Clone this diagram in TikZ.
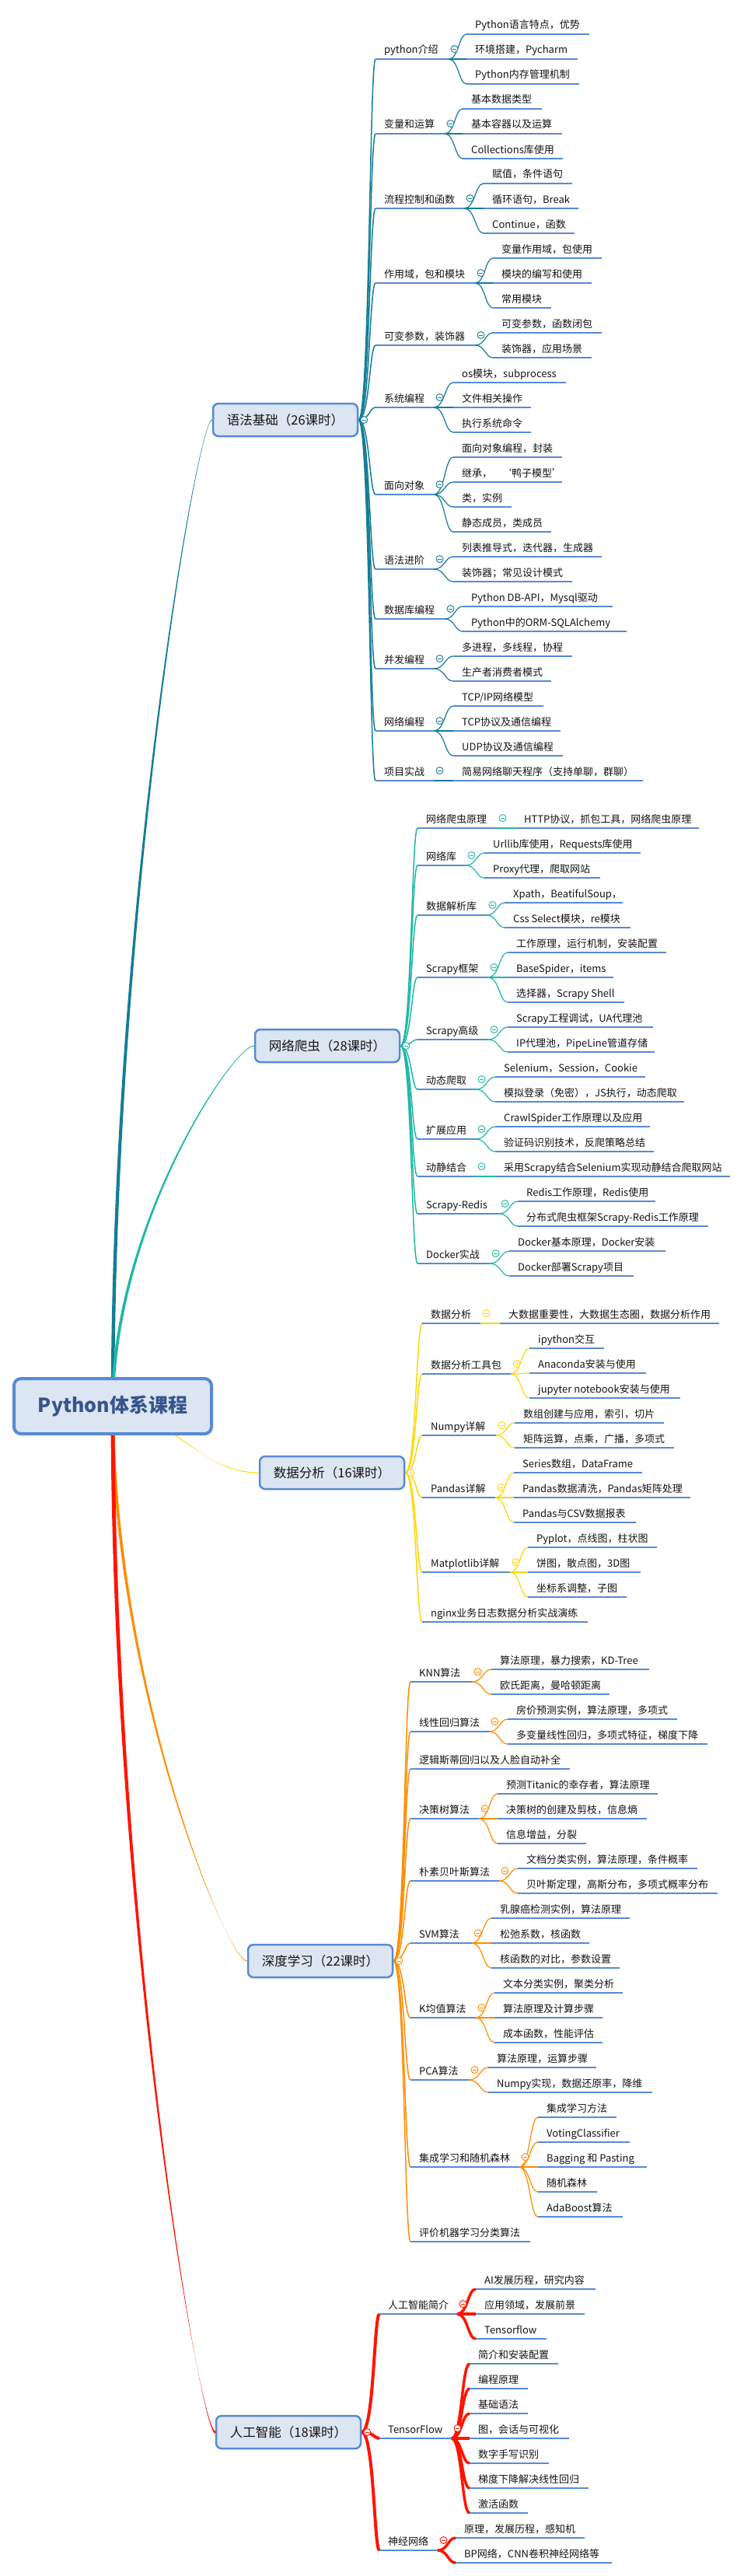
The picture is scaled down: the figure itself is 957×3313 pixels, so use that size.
\documentclass[tikz,border=0pt]{standalone}
\usepackage{fontspec}
\setmainfont{Noto Sans CJK SC}
\usetikzlibrary{calc}
\pgfdeclarelayer{bg}
\pgfsetlayers{bg,main}
\definecolor{cteal}{RGB}{20,125,150}
\definecolor{cturq}{RGB}{30,185,165}
\definecolor{cyel}{RGB}{255,214,0}
\definecolor{corange}{RGB}{255,140,0}
\definecolor{cred}{RGB}{255,20,0}
\definecolor{ublue}{RGB}{88,138,210}
\definecolor{boxfill}{RGB}{220,230,242}
\definecolor{boxline}{RGB}{88,138,210}
\definecolor{titlecol}{RGB}{55,85,140}
\definecolor{txtcol}{RGB}{20,20,20}
\newcommand\topic[5]{%
  \coordinate (#1-l) at (#2,#4);
  \coordinate (#1-r) at (#3,#4);
  \draw[uline] (#1-l) -- (#1-r);
  \node[txt] (#1) at ([xshift=11pt,yshift=7pt]#1-l) {#5};}
\newcommand\conn[4][0.57]{%
  \begin{pgfonlayer}{bg}
  \draw[#4] let \p1=(#2), \p2=(#3), \p3=($(#2)!#1!(#3)$) in
    (\p1) .. controls (\x3,\y1) and (\x3,\y2) .. (\p2);
  \end{pgfonlayer}}
% tapered connector: a,c = first control (fractions of dx,dy); b = second control x fraction
\newcommand\tconn[8]{%
  \begin{pgfonlayer}{bg}
  \fill[#6] let \p1=(#4), \p2=(#5) in
    ({\x1-#7/2},\y1) .. controls ({\x1+#1*(\x2-\x1)-#7/2},{\y1+#2*(\y2-\y1)})
      and ({\x1+#3*(\x2-\x1)},{\y2+#8/2}) .. (\x2,{\y2+#8/2})
    -- (\x2,{\y2-#8/2}) .. controls ({\x1+#3*(\x2-\x1)},{\y2-#8/2})
      and ({\x1+#1*(\x2-\x1)+#7/2},{\y1+#2*(\y2-\y1)}) .. ({\x1+#7/2},\y1) -- cycle;
  \end{pgfonlayer}}
\newcommand\kids[3]{\foreach \kk in {#2}{\edef\tmpa{#1-r}\edef\tmpb{#1\kk-l}\conn{\tmpa}{\tmpb}{#3}}}
\newcommand\pc[2]{%
  \node[circ, draw=#2] (#1-c) at ([xshift=7.5pt,yshift=13pt]#1-r) {};
  \draw[#2, line width=0.9pt] ([xshift=-2.6pt]#1-c.center) -- ([xshift=2.6pt]#1-c.center);}
\newcommand\bc[2]{%
  \node[circ, draw=#2] (#1-c) at ([xshift=7pt]#1.east) {};
  \draw[#2, line width=0.9pt] ([xshift=-2.6pt]#1-c.center) -- ([xshift=2.6pt]#1-c.center);}
\newcommand\trunk[4]{\foreach \qq in {#2}{\edef\tmpb{\qq-l}\conn[#4]{#1}{\tmpb}{#3}}}
\newcommand\circs[2]{\foreach \qq in {#1}{\edef\tmpb{\qq}\pc{\tmpb}{#2}}}
\begin{document}
\begin{tikzpicture}[x=1pt,y=-1pt,
  uline/.style={ublue, line width=2.5pt},
  txt/.style={anchor=base west, inner sep=0pt, font=\fontsize{13}{15}\selectfont, text=txtcol},
  circ/.style={circle, minimum size=9pt, inner sep=0pt, fill=white, line width=0.9pt},
  lzero/.style={draw=boxline, line width=2.5pt, fill=boxfill, rounded corners=7pt,
    minimum width=186pt, minimum height=42pt, inner sep=0pt,
    font=\fontsize{16.5}{19}\selectfont, text=txtcol},
  mainbox/.style={draw=boxline, line width=4pt, fill=boxfill, rounded corners=9pt,
    minimum width=254pt, minimum height=71pt, inner sep=0pt,
    font=\fontsize{25}{29}\selectfont\bfseries, text=titlecol},
  tb/.style={cteal, line width=1.5pt}, tc/.style={cteal, line width=1.2pt},
  ub/.style={cturq, line width=1.5pt}, uc/.style={cturq, line width=1.2pt},
  yb/.style={cyel, line width=1.5pt}, yc/.style={cyel, line width=1.2pt},
  ob/.style={corange, line width=1.5pt}, oc/.style={corange, line width=1.2pt},
  rb/.style={cred, line width=4pt}, rc/.style={cred, line width=3.5pt},
]
\useasboundingbox (0,0) rectangle (957,3313);
\begin{pgfonlayer}{bg}\fill[white] (0,0) rectangle (957,3313);\end{pgfonlayer}

% ---------- main and level 0 ----------
\node[mainbox] (M) at (145,1808.5) {Python体系课程};
\node[lzero] (A) at (367,540) {语法基础（26课时）};
\node[lzero] (B) at (421,1345) {网络爬虫（28课时）};
\node[lzero] (C) at (427,1894) {数据分析（16课时）};
\node[lzero] (D) at (412,2522) {深度学习（22课时）};
\node[lzero] (E) at (371,3128) {人工智能（18课时）};
\tconn{0}{0.5}{0.85}{M.center}{A.west}{cteal}{4.5}{1}
\tconn{0}{0.5}{0.85}{M.center}{B.west}{cturq}{4}{1}
\tconn{0.45}{0.2}{0.6}{M.center}{C.west}{cyel}{4}{1}
\tconn{0}{0.5}{0.85}{M.center}{D.west}{corange}{4}{1}
\tconn{0}{0.5}{0.85}{M.center}{E.west}{cred}{5}{3.5}
\bc{A}{cteal}\bc{B}{cturq}\bc{C}{cyel}\bc{D}{corange}\bc{E}{cred}

% ---------- A: 语法基础 ----------
\topic{a1}{483}{577}{76}{python介绍}
\topic{a1a}{600}{758}{44}{Python语言特点，优势}
\topic{a1b}{600}{743}{76}{环境搭建，Pycharm}
\topic{a1c}{600}{745}{108}{Python内存管理机制}
\topic{a2}{483}{572}{172}{变量和运算}
\topic{a2a}{595}{697}{140}{基本数据类型}
\topic{a2b}{595}{723}{172}{基本容器以及运算}
\topic{a2c}{595}{724}{204}{Collections库使用}
\topic{a3}{483}{597}{268}{流程控制和函数}
\topic{a3a}{622}{736}{236}{赋值，条件语句}
\topic{a3b}{622}{744}{268}{循环语句，Break}
\topic{a3c}{622}{739}{300}{Continue，函数}
\topic{a4}{483}{611}{364}{作用域，包和模块}
\topic{a4a}{634}{774}{332}{变量作用域，包使用}
\topic{a4b}{634}{761}{364}{模块的编写和使用}
\topic{a4c}{634}{709}{396}{常用模块}
\topic{a5}{483}{611}{444}{可变参数，装饰器}
\topic{a5a}{634}{774}{428}{可变参数，函数闭包}
\topic{a5b}{634}{761}{460}{装饰器，应用场景}
\topic{a6}{483}{558}{524}{系统编程}
\topic{a6a}{583}{728}{492}{os模块，subprocess}
\topic{a6b}{583}{683}{524}{文件相关操作}
\topic{a6c}{583}{683}{556}{执行系统命令}
\topic{a7}{483}{558}{636}{面向对象}
\topic{a7a}{583}{723}{588}{面向对象编程，封装}
\topic{a7b}{583}{723}{620}{继承，\hspace{12pt}‘鸭子模型’}
\topic{a7c}{583}{658}{652}{类，实例}
\topic{a7d}{583}{709}{684}{静态成员，类成员}
\topic{a8}{483}{558}{732}{语法进阶}
\topic{a8a}{583}{774}{716}{列表推导式，迭代器，生成器}
\topic{a8b}{583}{736}{748}{装饰器；常见设计模式}
\topic{a9}{483}{572}{796}{数据库编程}
\topic{a9a}{595}{788}{780}{Python DB-API，Mysql驱动}
\topic{a9b}{595}{806}{812}{Python中的ORM-SQLAlchemy}
\topic{a10}{483}{558}{860}{并发编程}
\topic{a10a}{583}{736}{844}{多进程，多线程，协程}
\topic{a10b}{583}{709}{876}{生产者消费者模式}
\topic{a11}{483}{558}{940}{网络编程}
\topic{a11a}{583}{699}{908}{TCP/IP网络模型}
\topic{a11b}{583}{721}{940}{TCP协议及通信编程}
\topic{a11c}{583}{724}{972}{UDP协议及通信编程}
\topic{a12}{483}{558}{1004}{项目实战}
\topic{a12a}{583}{827}{1004}{简易网络聊天程序（支持单聊，群聊）}
\trunk{A.east}{a1,a2,a3,a4,a5,a6,a7,a8,a9,a10,a11,a12}{tb}{0.65}
\kids{a1}{a,b,c}{tc}\kids{a2}{a,b,c}{tc}\kids{a3}{a,b,c}{tc}\kids{a4}{a,b,c}{tc}
\kids{a5}{a,b}{tc}\kids{a6}{a,b,c}{tc}\kids{a7}{a,b,c,d}{tc}\kids{a8}{a,b}{tc}
\kids{a9}{a,b}{tc}\kids{a10}{a,b}{tc}\kids{a11}{a,b,c}{tc}\kids{a12}{a}{tc}
\circs{a1,a2,a3,a4,a5,a6,a7,a8,a9,a10,a11,a12}{cteal}

% ---------- B: 网络爬虫 ----------
\topic{b1}{537}{639}{1065}{网络爬虫原理}
\topic{b1a}{663}{899}{1065}{HTTP协议，抓包工具，网络爬虫原理}
\topic{b2}{537}{599}{1113}{网络库}
\topic{b2a}{623}{824}{1097}{Urllib库使用，Requests库使用}
\topic{b2b}{623}{772}{1129}{Proxy代理，爬取网站}
\topic{b3}{537}{626}{1177}{数据解析库}
\topic{b3a}{649}{801}{1161}{Xpath，BeatifulSoup，}
\topic{b3b}{649}{811}{1193}{Css Select模块，re模块}
\topic{b4}{537}{628}{1257}{Scrapy框架}
\topic{b4a}{653}{857}{1225}{工作原理，运行机制，安装配置}
\topic{b4b}{653}{789}{1257}{BaseSpider，items}
\topic{b4c}{653}{803}{1289}{选择器，Scrapy Shell}
\topic{b5}{537}{628}{1337}{Scrapy高级}
\topic{b5a}{653}{840}{1321}{Scrapy工程调试，UA代理池}
\topic{b5b}{653}{842}{1353}{IP代理池，PipeLine管道存储}
\topic{b6}{537}{612}{1401}{动态爬取}
\topic{b6a}{637}{830}{1385}{Selenium，Session，Cookie}
\topic{b6b}{637}{880}{1417}{模拟登录（免密），JS执行，动态爬取}
\topic{b7}{537}{612}{1465}{扩展应用}
\topic{b7a}{637}{836}{1449}{CrawlSpider工作原理以及应用}
\topic{b7b}{637}{841}{1481}{验证码识别技术，反爬策略总结}
\topic{b8}{537}{612}{1513}{动静结合}
\topic{b8a}{637}{939}{1513}{采用Scrapy结合Selenium实现动静结合爬取网站}
\topic{b9}{537}{642}{1561}{Scrapy-Redis}
\topic{b9a}{666}{843}{1545}{Redis工作原理，Redis使用}
\topic{b9b}{666}{911}{1577}{分布式爬虫框架Scrapy-Redis工作原理}
\topic{b10}{537}{630}{1625}{Docker实战}
\topic{b10a}{655}{856}{1609}{Docker基本原理，Docker安装}
\topic{b10b}{655}{815}{1641}{Docker部署Scrapy项目}
\trunk{B.east}{b1,b2,b3,b4,b5,b6,b7,b8,b9,b10}{ub}{0.65}
\kids{b1}{a}{uc}\kids{b2}{a,b}{uc}\kids{b3}{a,b}{uc}\kids{b4}{a,b,c}{uc}\kids{b5}{a,b}{uc}
\kids{b6}{a,b}{uc}\kids{b7}{a,b}{uc}\kids{b8}{a}{uc}\kids{b9}{a,b}{uc}\kids{b10}{a,b}{uc}
\circs{b1,b2,b3,b4,b5,b6,b7,b8,b9,b10}{cturq}

% ---------- C: 数据分析 ----------
\topic{c1}{543}{618}{1702}{数据分析}
\topic{c1a}{643}{925}{1702}{大数据重要性，大数据生态圈，数据分析作用}
\topic{c2}{543}{657}{1767}{数据分析工具包}
\topic{c2a}{681}{777}{1734}{ipython交互}
\topic{c2b}{681}{831}{1766}{Anaconda安装与使用}
\topic{c2c}{681}{875}{1798}{jupyter notebook安装与使用}
\topic{c3}{543}{638}{1846}{Numpy详解}
\topic{c3a}{662}{854}{1830}{数组创建与应用，索引，切片}
\topic{c3b}{662}{867}{1862}{矩阵运算，点乘，广播，多项式}
\topic{c4}{543}{637}{1926}{Pandas详解}
\topic{c4a}{661}{826}{1894}{Series数组，DataFrame}
\topic{c4b}{661}{888}{1926}{Pandas数据清洗，Pandas矩阵处理}
\topic{c4c}{661}{818}{1958}{Pandas与CSV数据报表}
\topic{c5}{543}{656}{2022}{Matplotlib详解}
\topic{c5a}{679}{845}{1990}{Pyplot，点线图，柱状图}
\topic{c5b}{679}{824}{2022}{饼图，散点图，3D图}
\topic{c5c}{679}{806}{2054}{坐标系调整，子图}
\topic{c6}{543}{756}{2086}{nginx业务日志数据分析实战演练}
\trunk{C.east}{c1,c2,c3,c4,c5,c6}{yb}{0.65}
\kids{c1}{a}{yc}\kids{c2}{a,b,c}{yc}\kids{c3}{a,b}{yc}\kids{c4}{a,b,c}{yc}\kids{c5}{a,b,c}{yc}
\circs{c1,c2,c3,c4,c5}{cyel}

% ---------- D: 深度学习 ----------
\topic{d1}{528}{607}{2163}{KNN算法}
\topic{d1a}{632}{835}{2147}{算法原理，暴力搜索，KD-Tree}
\topic{d1b}{632}{784}{2179}{欧氏距离，曼哈顿距离}
\topic{d2}{528}{629}{2227}{线性回归算法}
\topic{d2a}{653}{871}{2211}{房价预测实例，算法原理，多项式}
\topic{d2b}{653}{910}{2243}{多变量线性回归，多项式特征，梯度下降}
\topic{d3}{528}{733}{2275}{逻辑斯蒂回归以及人脸自动补全}
\topic{d4}{528}{616}{2339}{决策树算法}
\topic{d4a}{640}{846}{2307}{预测Titanic的幸存者，算法原理}
\topic{d4b}{640}{832}{2339}{决策树的创建及剪枝，信息熵}
\topic{d4c}{640}{754}{2371}{信息增益，分裂}
\topic{d5}{528}{642}{2419}{朴素贝叶斯算法}
\topic{d5a}{666}{897}{2403}{文档分类实例，算法原理，条件概率}
\topic{d5b}{666}{923}{2435}{贝叶斯定理，高斯分布，多项式概率分布}
\topic{d6}{528}{607}{2499}{SVM算法}
\topic{d6a}{632}{810}{2467}{乳腺癌检测实例，算法原理}
\topic{d6b}{632}{758}{2499}{松弛系数，核函数}
\topic{d6c}{632}{797}{2531}{核函数的对比，参数设置}
\topic{d7}{528}{612}{2595}{K均值算法}
\topic{d7a}{636}{801}{2563}{文本分类实例，聚类分析}
\topic{d7b}{636}{775}{2595}{算法原理及计算步骤}
\topic{d7c}{636}{775}{2627}{成本函数，性能评估}
\topic{d8}{528}{603}{2675}{PCA算法}
\topic{d8a}{628}{767}{2659}{算法原理，运算步骤}
\topic{d8b}{628}{839}{2691}{Numpy实现，数据还原率，降维}
\topic{d9}{528}{668}{2787}{集成学习和随机森林}
\topic{d9a}{692}{793}{2723}{集成学习方法}
\topic{d9b}{692}{810}{2755}{VotingClassifier}
\topic{d9c}{692}{832}{2787}{Bagging 和 Pasting}
\topic{d9d}{692}{768}{2819}{随机森林}
\topic{d9e}{692}{801}{2851}{AdaBoost算法}
\topic{d10}{528}{682}{2883}{评价机器学习分类算法}
\trunk{D.east}{d1,d2,d3,d4,d5,d6,d7,d8,d9,d10}{ob}{0.65}
\kids{d1}{a,b}{oc}\kids{d2}{a,b}{oc}\kids{d4}{a,b,c}{oc}\kids{d5}{a,b}{oc}\kids{d6}{a,b,c}{oc}
\kids{d7}{a,b,c}{oc}\kids{d8}{a,b}{oc}\kids{d9}{a,b,c,d,e}{oc}
\circs{d1,d2,d4,d5,d6,d7,d8,d9}{corange}

% ---------- E: 人工智能 ----------
\topic{e1}{488}{588}{2976}{人工智能简介}
\topic{e1a}{612}{766}{2944}{AI发展历程，研究内容}
\topic{e1b}{612}{752}{2976}{应用领域，发展前景}
\topic{e1c}{612}{703}{3008}{Tensorflow}
\topic{e2}{488}{581}{3136}{TensorFlow}
\topic{e2a}{604}{718}{3040}{简介和安装配置}
\topic{e2b}{604}{679}{3072}{编程原理}
\topic{e2c}{604}{679}{3104}{基础语法}
\topic{e2d}{604}{732}{3136}{图，会话与可视化}
\topic{e2e}{604}{706}{3168}{数字手写识别}
\topic{e2f}{604}{757}{3200}{梯度下降解决线性回归}
\topic{e2g}{604}{679}{3232}{激活函数}
\topic{e3}{488}{563}{3280}{神经网络}
\topic{e3a}{586}{752}{3264}{原理，发展历程，感知机}
\topic{e3b}{586}{787}{3296}{BP网络，CNN卷积神经网络等}
\trunk{E.east}{e1,e2,e3}{rb}{0.7}
\kids{e1}{a,b,c}{rc}\kids{e2}{a,b,c,d,e,f,g}{rc}\kids{e3}{a,b}{rc}
\circs{e1,e2,e3}{cred}
\end{tikzpicture}
\end{document}
